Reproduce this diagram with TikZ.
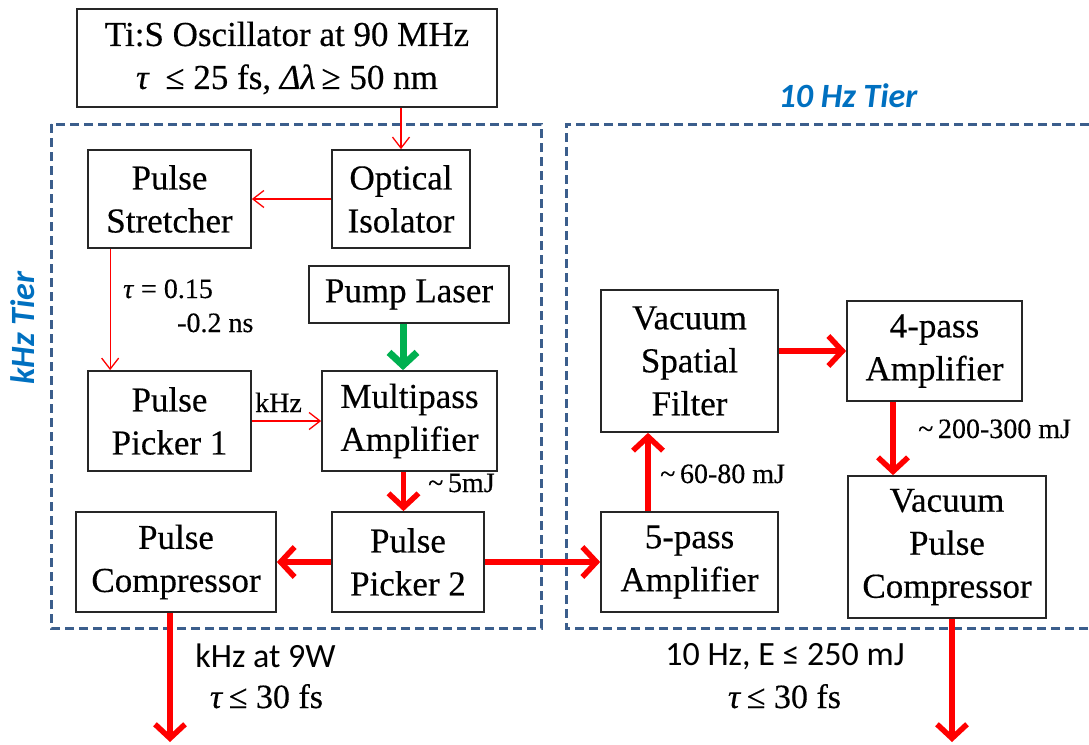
\documentclass[tikz,border=0pt]{standalone}
\usepackage{fontspec}
\setmainfont{Liberation Serif}[FakeBold=0.35]
\newfontfamily\calib{Carlito}
\usetikzlibrary{arrows.meta}
\definecolor{tierblue}{HTML}{0070C0}
\definecolor{dashblue}{HTML}{3B5E8C}
\definecolor{pptred}{HTML}{FF0000}
\definecolor{pptgreen}{HTML}{00B050}
\begin{document}
\begin{tikzpicture}[x=1pt,y=-1pt,
 box/.style={draw=black!85, line width=1.7pt, inner sep=0pt, align=center, font=\fontsize{35}{43}\selectfont},
 thinarrow/.style={draw=pptred, line width=1.3pt, -{Straight Barb[length=11pt,width=17pt]}},
 thickarrow/.style={draw=pptred, line width=5.5pt, -{Straight Barb[length=14pt,width=30pt]}},
 pumparrow/.style={draw=pptgreen, line width=7pt, -{Straight Barb[length=13pt,width=28pt]}},
 lbl/.style={inner sep=0pt, anchor=base west, font=\fontsize{28}{32}\selectfont},
 tier/.style={draw=dashblue, line width=3pt, dash pattern=on 9pt off 5pt},
 tierlbl/.style={text=tierblue, inner sep=0pt, font=\calib\bfseries\itshape\fontsize{34}{40}\selectfont},
 outsans/.style={inner sep=0pt, anchor=base, font=\calib\fontsize{34}{40}\selectfont},
 outserif/.style={inner sep=0pt, anchor=base, font=\fontsize{34}{40}\selectfont}
]
\useasboundingbox (0,0) rectangle (1089,744);

% tier frames
\draw[tier] (51,124) rectangle (541,628);
\draw[tier] (1089,124) -- (566,124) -- (566,628) -- (1089,628);
\node[tierlbl, anchor=base] (t10) at (848,107) {10 Hz Tier};
\node[tierlbl, anchor=base, rotate=90] (tk) at (34,328) {kHz Tier};

% boxes
\node[box, minimum width=420pt, minimum height=98pt] (osc) at (287,58) {Ti:S Oscillator at 90 MHz\\\textit{τ}\hspace{0.45em}≤ 25 fs, \textit{Δλ}\,≥ 50 nm};
\node[box, minimum width=138pt, minimum height=98pt] (iso) at (401,199) {Optical\\Isolator};
\node[box, minimum width=163pt, minimum height=98pt] (str) at (169.5,199) {Pulse\\Stretcher};
\node[box, minimum width=200pt, minimum height=57pt] (pump) at (409,294.5) {Pump Laser};
\node[box, minimum width=163pt, minimum height=100pt] (pp1) at (169.5,421) {Pulse\\Picker 1};
\node[box, minimum width=175pt, minimum height=100pt] (mpa) at (409.5,421) {Multipass\\Amplifier};
\node[box, minimum width=200pt, minimum height=100pt] (pc) at (176,562) {Pulse\\Compressor};
\node[box, minimum width=152pt, minimum height=100pt] (pp2) at (408,562) {Pulse\\Picker 2};
\node[box, minimum width=177pt, minimum height=142pt] (vsf) at (689.5,361) {Vacuum\\Spatial\\Filter};
\node[box, minimum width=175pt, minimum height=100pt] (fpa) at (934.5,351) {4-pass\\Amplifier};
\node[box, minimum width=177pt, minimum height=100pt] (fivepa) at (689.5,562) {5-pass\\Amplifier};
\node[box, minimum width=198pt, minimum height=142pt] (vpc) at (947,547) {Vacuum\\Pulse\\Compressor};

% connectors
\draw[thinarrow] (iso.north |- osc.south) -- (iso.north);
\draw[thinarrow] (iso.west) -- (str.east);
\draw[thinarrow] ([xshift=23pt]str.south west) -- ([xshift=23pt]pp1.north west);
\draw[thinarrow] (pp1.east) -- (mpa.west);
\draw[pumparrow] ([xshift=-6pt]pump.south) -- ([xshift=-6pt]pump.south |- mpa.north);
\draw[thickarrow] ([xshift=-6pt]mpa.south) -- ([xshift=-6pt]mpa.south |- pp2.north);
\draw[thickarrow] (pp2.west) -- (pc.east);
\draw[thickarrow] (pp2.east) -- (fivepa.west);
\coordinate (out1) at (170,742);
\draw[thickarrow] ([xshift=-6pt]pc.south) -- (out1);
\draw[thickarrow] ([xshift=-41.5pt]fivepa.north) -- ([xshift=-41.5pt]vsf.south);
\draw[thickarrow] (vsf.east |- fpa.west) -- (fpa.west);
\draw[thickarrow] ([xshift=-41.5pt]fpa.south) -- ([xshift=-41.5pt]fpa.south |- vpc.north);
\coordinate (out2) at (952,742);
\draw[thickarrow] ([xshift=5pt]vpc.south) -- (out2);

% labels
\node[lbl] (l1) at (123,298) {\textit{τ} = 0.15};
\node[lbl] (l2) at (177,332) {-0.2 ns};
\node[lbl] (l3) at (255,412) {kHz};
\node[lbl] (l4) at (428,492) {\textasciitilde\,5mJ};
\node[lbl] (l5) at (660,483) {\textasciitilde\,60-80 mJ};
\node[lbl] (l6) at (918,438) {\textasciitilde\,200-300 mJ};

\node[outsans] (o1) at (265.5,667) {kHz at 9W};
\node[outserif] (o2) at (266.5,708) {\textit{τ}\,≤ 30 fs};
\node[outsans] (o3) at (785,665) {10 Hz, E ≤ 250 mJ};
\node[outserif] (o4) at (784.5,708) {\textit{τ}\,≤ 30 fs};
\end{tikzpicture}
\end{document}
